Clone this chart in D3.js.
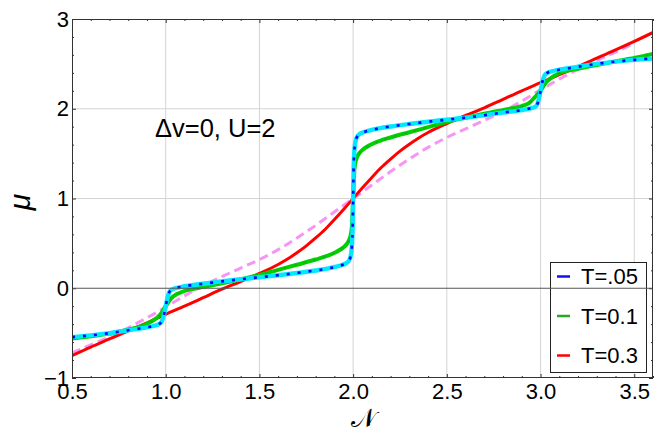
<!DOCTYPE html>
<html><head><meta charset="utf-8">
<script src="https://cdn.jsdelivr.net/npm/d3@7"></script>
<style>
html,body{margin:0;padding:0;background:#fff;}
svg{display:block;font-family:"Liberation Sans",Arial,Helvetica,sans-serif;}
</style></head>
<body><svg id="c" width="666" height="433"></svg>
<script>
// ---- data ----
const xTicks = [0.5, 1.0, 1.5, 2.0, 2.5, 3.0, 3.5];
const yTicks = [-1, 0, 1, 2, 3];
const legendLabels = ["T=.05", "T=0.1", "T=0.3"];
const annotation = "\u0394v=0, U=2";

// T = .05
const nT05 = [0.50,0.60,0.70,0.80,0.85,0.90,0.94,0.965,0.98,0.99,1.00,1.01,1.02,1.035,1.06,1.10,1.20,1.30,1.40,1.50,1.60,1.70,1.80,1.86,1.91,1.945,1.965,1.978,1.987,1.993,1.997,2.000,2.003,2.007,2.013,2.022,2.035,2.055,2.09,2.14,2.20,2.30,2.40,2.50,2.60,2.70,2.80,2.90,2.94,2.965,2.98,2.99,3.00,3.01,3.02,3.035,3.06,3.10,3.15,3.20,3.30,3.40,3.50,3.60];
const muT05 = [-0.545,-0.525,-0.500,-0.468,-0.452,-0.435,-0.418,-0.398,-0.365,-0.300,-0.200,-0.100,-0.040,-0.012,0.005,0.022,0.050,0.077,0.100,0.122,0.145,0.170,0.198,0.218,0.240,0.262,0.282,0.310,0.360,0.460,0.640,1.000,1.360,1.540,1.640,1.690,1.718,1.738,1.760,1.782,1.802,1.830,1.855,1.878,1.900,1.928,1.958,1.985,2.002,2.015,2.040,2.100,2.200,2.300,2.365,2.398,2.418,2.435,2.452,2.468,2.500,2.525,2.545,2.560];

// T = 0.1
const nT1 = [0.50,0.60,0.70,0.80,0.85,0.90,0.94,0.97,1.00,1.03,1.06,1.10,1.15,1.20,1.30,1.40,1.50,1.60,1.70,1.80,1.86,1.91,1.945,1.965,1.978,1.988,1.994,2.000,2.006,2.012,2.022,2.035,2.055,2.09,2.14,2.20,2.30,2.40,2.50,2.60,2.70,2.80,2.85,2.90,2.94,2.97,3.00,3.03,3.06,3.10,3.20,3.30,3.40,3.50,3.60];
const muT1 = [-0.560,-0.535,-0.505,-0.462,-0.435,-0.395,-0.350,-0.295,-0.200,-0.110,-0.065,-0.030,-0.005,0.015,0.055,0.100,0.148,0.205,0.262,0.320,0.360,0.405,0.450,0.490,0.535,0.600,0.700,1.000,1.300,1.400,1.465,1.510,1.550,1.595,1.640,1.680,1.738,1.795,1.852,1.900,1.945,1.985,2.005,2.030,2.065,2.130,2.200,2.295,2.350,2.395,2.445,2.488,2.528,2.565,2.610];

// T = 0.3
const nT3 = [0.5,0.6,0.7,0.8,0.9,1.0,1.1,1.2,1.3,1.4,1.5,1.6,1.65,1.7,1.75,1.8,1.85,1.9,1.95,2.0,2.05,2.1,2.15,2.2,2.25,2.3,2.35,2.4,2.5,2.6,2.7,2.8,2.9,3.0,3.1,3.2,3.3,3.4,3.5,3.6];
const muT3 = [-0.750,-0.655,-0.565,-0.475,-0.385,-0.290,-0.200,-0.105,-0.010,0.075,0.165,0.265,0.325,0.395,0.472,0.560,0.655,0.765,0.880,1.000,1.120,1.235,1.345,1.440,1.528,1.605,1.675,1.735,1.835,1.925,2.010,2.105,2.200,2.290,2.380,2.470,2.565,2.655,2.750,2.850];

// dashed violet reference curve
const nRef = [0.5,0.6,0.7,0.8,0.9,1.0,1.1,1.2,1.3,1.4,1.5,1.6,1.7,1.8,1.9,2.0,2.1,2.2,2.3,2.4,2.5,2.6,2.7,2.8,2.9,3.0,3.1,3.2,3.3,3.4,3.5];
const muRef = [-0.720,-0.630,-0.540,-0.440,-0.330,-0.210,-0.085,0.030,0.130,0.225,0.320,0.430,0.560,0.700,0.850,1.000,1.150,1.300,1.440,1.570,1.680,1.775,1.870,1.970,2.085,2.210,2.330,2.440,2.540,2.630,2.730];

// ---- chart ----
const L = 72, R = 653, T = 19, B = 378;
const svg = d3.select("#c");
const x = d3.scaleLinear().domain([0.5, 3.6]).range([L, R]);
const y = d3.scaleLinear().domain([-1, 3]).range([B, T]);

svg.append("defs").append("clipPath").attr("id","clip")
  .append("rect").attr("x",L).attr("y",T).attr("width",R-L).attr("height",B-T);

// grid
const grid = svg.append("g").attr("stroke","#d4d4d4").attr("stroke-width",1);
[1.0,1.5,2.0,2.5,3.0,3.5].forEach(v=>{
  grid.append("line").attr("x1",x(v)).attr("x2",x(v)).attr("y1",T).attr("y2",B);
});
[1,2].forEach(v=>{
  grid.append("line").attr("x1",L).attr("x2",R).attr("y1",y(v)).attr("y2",y(v));
});

const minorX = d3.range(5, 37).map(d=>d/10).filter(v=>Math.abs(v*2-Math.round(v*2))>1e-6);
const minorY = d3.range(-5, 16).map(d=>d/5).filter(v=>Math.abs(v-Math.round(v))>1e-6);

function styleAxis(g){
  g.select(".domain").remove();
  g.selectAll(".tick line").attr("stroke","#333");
  g.selectAll("text").attr("font-size","22px").attr("fill","#000")
   .attr("font-family","'Liberation Sans',Arial,Helvetica,sans-serif");
}
// bottom
svg.append("g").attr("transform",`translate(0,${B})`)
  .call(d3.axisBottom(x).tickValues(minorX).tickSize(-2).tickFormat("")).call(styleAxis);
svg.append("g").attr("transform",`translate(0,${B})`)
  .call(d3.axisBottom(x).tickValues(xTicks).tickSize(-4).tickPadding(5.5).tickFormat(d3.format(".1f"))).call(styleAxis);
// top
svg.append("g").attr("transform",`translate(0,${T})`)
  .call(d3.axisTop(x).tickValues(minorX).tickSize(-2).tickFormat("")).call(styleAxis);
svg.append("g").attr("transform",`translate(0,${T})`)
  .call(d3.axisTop(x).tickValues(xTicks).tickSize(-4).tickFormat("")).call(styleAxis);
// left
svg.append("g").attr("transform",`translate(${L},0)`)
  .call(d3.axisLeft(y).tickValues(minorY).tickSize(-2).tickFormat("")).call(styleAxis);
svg.append("g").attr("transform",`translate(${L},0)`)
  .call(d3.axisLeft(y).tickValues(yTicks).tickSize(-4).tickPadding(3).tickFormat(d3.format("d"))).call(styleAxis);
// right
svg.append("g").attr("transform",`translate(${R},0)`)
  .call(d3.axisRight(y).tickValues(minorY).tickSize(-2).tickFormat("")).call(styleAxis);
svg.append("g").attr("transform",`translate(${R},0)`)
  .call(d3.axisRight(y).tickValues(yTicks).tickSize(-4).tickFormat("")).call(styleAxis);

// curves
const line = (ns, ms) => d3.line().x((d,i)=>x(ns[i])).y((d,i)=>y(ms[i])).curve(d3.curveMonotoneX)(ms);
const cg = svg.append("g").attr("clip-path","url(#clip)").attr("fill","none")
  .attr("stroke-linecap","butt").attr("stroke-linejoin","round");
cg.append("path").attr("d",line(nRef,muRef)).attr("stroke","#f596f5").attr("stroke-width",3).attr("stroke-dasharray","9,5");
cg.append("path").attr("d",line(nT3,muT3)).attr("stroke","#ff0000").attr("stroke-width",3);
cg.append("path").attr("d",line(nT1,muT1)).attr("stroke","#00d000").attr("stroke-width",4);
cg.append("path").attr("d",line(nT1,muT1)).attr("stroke","#18b018").attr("stroke-width",2).attr("stroke-dasharray","3,7");
cg.append("path").attr("d",line(nT05,muT05)).attr("stroke","#00e8ff").attr("stroke-width",4.4);
cg.append("path").attr("d",line(nT05,muT05)).attr("stroke","#0000ff").attr("stroke-width",2.6).attr("stroke-dasharray","3,8");

// annotation
svg.append("text").attr("x",155).attr("y",137).attr("font-size","25.5px").attr("fill","#000").text(annotation);

// legend
const lg = svg.append("g");
lg.append("rect").attr("x",550.5).attr("y",262.5).attr("width",96).attr("height",110)
  .attr("fill","#fff").attr("stroke","#222").attr("stroke-width",1);
const legColors = ["#1010f0","#22aa22","#ff0000"];
legendLabels.forEach((t,i)=>{
  const cy = 276.5 + i*39.5;
  lg.append("line").attr("x1",557).attr("x2",570).attr("y1",cy).attr("y2",cy)
    .attr("stroke",legColors[i]).attr("stroke-width",2.5);
  lg.append("text").attr("x",581).attr("y",cy+7.5).attr("font-size","22px").attr("fill","#000").text(t);
});

// zero line (drawn above legend as in original)
svg.append("line").attr("x1",L).attr("x2",R).attr("y1",y(0)).attr("y2",y(0))
  .attr("stroke","#555").attr("stroke-width",1);

// frame
svg.append("rect").attr("x",L+0.5).attr("y",T+0.5).attr("width",R-L-1).attr("height",B-T-1)
  .attr("fill","none").attr("stroke","#333").attr("stroke-width",1);

// axis titles
svg.append("text").attr("transform",`translate(30,202) rotate(-90)`).attr("text-anchor","middle")
  .attr("font-size","30px").attr("font-style","italic").attr("fill","#000").text("\u03BC");
svg.append("text").attr("x",363).attr("y",427).attr("text-anchor","middle")
  .attr("font-size","26px").attr("font-family","'DejaVu Sans','DejaVu Serif',serif").attr("fill","#000").text("\uD835\uDCA9");
</script></body></html>
